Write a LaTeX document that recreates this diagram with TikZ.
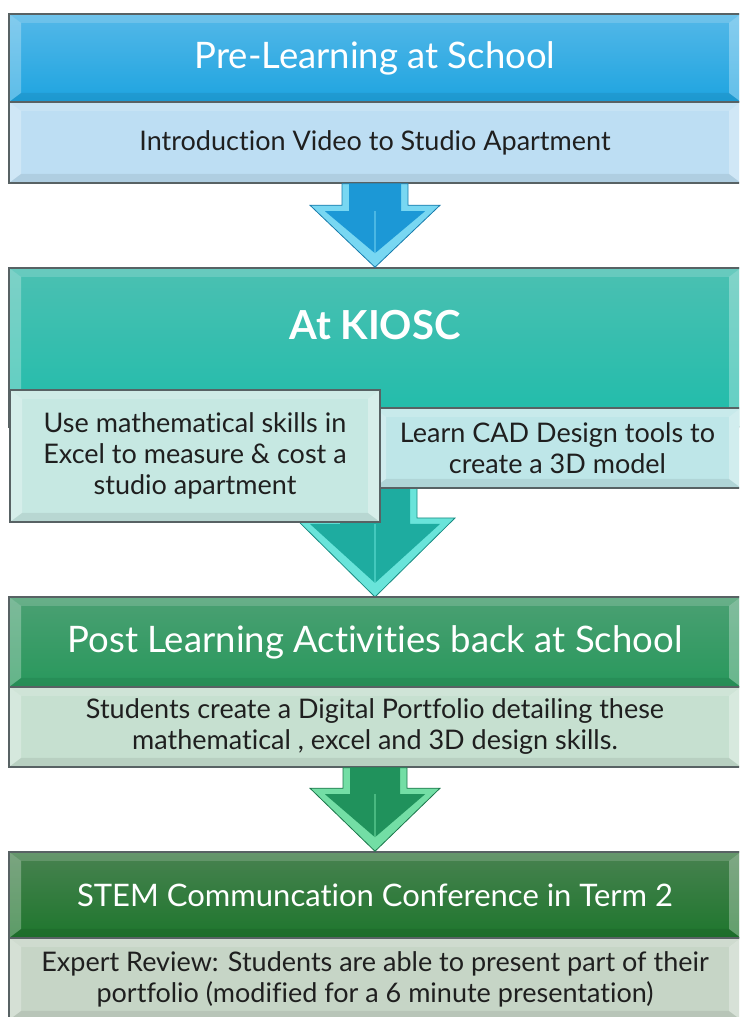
\documentclass[tikz,border=0pt]{standalone}
\usepackage{fontspec}
\setmainfont{Lato}[Ligatures={NoCommon,NoRequired,NoContextual}]
\usetikzlibrary{calc}

% stage colours
\definecolor{boxline}{RGB}{88,98,100}
\definecolor{bluetop}{RGB}{84,184,232}
\definecolor{bluebot}{RGB}{30,164,224}
\definecolor{bluesub}{RGB}{189,222,243}
\definecolor{bluelight}{RGB}{120,215,242}
\definecolor{bluemain}{RGB}{28,152,214}
\definecolor{tealtop}{RGB}{75,192,178}
\definecolor{tealbot}{RGB}{30,188,170}
\definecolor{tealsub}{RGB}{198,232,226}
\definecolor{tealsubb}{RGB}{190,230,232}
\definecolor{teallight}{RGB}{105,228,218}
\definecolor{tealmain}{RGB}{30,172,160}
\definecolor{greentop}{RGB}{75,160,115}
\definecolor{greenbot}{RGB}{40,152,92}
\definecolor{greensub}{RGB}{198,224,208}
\definecolor{greenlight}{RGB}{115,222,165}
\definecolor{greenmain}{RGB}{32,146,92}
\definecolor{darktop}{RGB}{72,130,80}
\definecolor{darkbot}{RGB}{30,118,45}
\definecolor{darksub}{RGB}{198,213,198}

\tikzset{
  bevel/.style={path picture={
    \path (path picture bounding box.south west) coordinate (bl)
          (path picture bounding box.north east) coordinate (tr);
    \fill[white,opacity=.28] (bl) -- (bl|-tr) -- ($(bl|-tr)+(12,-9)$) -- ($(bl)+(12,9)$) -- cycle;
    \fill[white,opacity=.16] (bl|-tr) -- (tr) -- ($(tr)+(-12,-9)$) -- ($(bl|-tr)+(12,-9)$) -- cycle;
    \fill[white,opacity=.30] (tr) -- (tr|-bl) -- ($(tr|-bl)+(-12,9)$) -- ($(tr)+(-12,-9)$) -- cycle;
    \fill[black,opacity=.07] (bl) -- (tr|-bl) -- ($(tr|-bl)+(-12,9)$) -- ($(bl)+(12,9)$) -- cycle;
  }},
  box/.style={draw=boxline,line width=1.5pt,minimum width=732pt,inner sep=0pt,align=center,bevel},
  hdr/.style={box,text=white,font=\fontsize{36.5}{42}\selectfont},
  sub/.style={box,text=black!88,font=\fontsize{27}{31}\selectfont},
  bigtitle/.style={text=white,font=\fontsize{40}{44}\selectfont\bfseries},
}

% block arrow: top anchor, tip anchor, shaft half-width, head half-width, head length, colour prefix
\newcommand\flowarrow[6]{%
  \fill[#6light,draw=#6main!80!black,line width=.8pt]
    ($(#1)+(-#3,0)$) -- ($(#2)+(-#3,#5)$) -- ($(#2)+(-#4,#5)$) -- (#2)
    -- ($(#2)+(#4,#5)$) -- ($(#2)+(#3,#5)$) -- ($(#1)+(#3,0)$) -- cycle;
  \fill[#6main]
    ($(#1)+(-#3+7,0)$) -- ($(#2)+(-#3+7,#5-6)$) -- ($(#2)+(-#4+15,#5-6)$) -- ($(#2)+(0,14)$)
    -- ($(#2)+(#4-15,#5-6)$) -- ($(#2)+(#3-7,#5-6)$) -- ($(#1)+(#3-7,0)$) -- cycle;
  \draw[#6light,opacity=.5,line width=1.2pt] ($(#2)+(0,#5-6)$) -- ($(#2)+(0,14)$);
}

\begin{document}
\begin{tikzpicture}[x=1pt,y=1pt]
\useasboundingbox (0,0) rectangle (739,1017);
\clip (0,0) rectangle (739,1017);

% pre-learning
\node[hdr,top color=bluetop,bottom color=bluebot,minimum height=88pt] (pre) at (375,959) {Pre-Learning at School};
\node[sub,fill=bluesub,minimum height=81pt] (presub) at (375,874.5) {Introduction Video to Studio Apartment};

% at KIOSC
\node[box,top color=tealtop,bottom color=tealbot,minimum height=159pt] (kiosc) at (375,669.5) {};
\node[bigtitle] (kiosctitle) at (375,692) {At KIOSC};
\flowarrow{presub.south}{kiosc.north}{33}{65}{62}{blue}
\flowarrow{kiosc.south}{375,420}{42}{80}{79}{teal}
\node[sub,fill=tealsubb,minimum width=367pt,minimum height=80pt] (cad) at (557.5,569) {Learn CAD Design tools to\\create a 3D model};
\node[sub,fill=tealsub,minimum width=370pt,minimum height=132pt] (excel) at (195,561) {Use mathematical skills in\\Excel to measure \& cost a\\studio apartment};

% post learning
\node[hdr,top color=greentop,bottom color=greenbot,minimum height=90pt] (post) at (375,375) {Post Learning Activities back at School};
\node[sub,fill=greensub,minimum height=80pt] (postsub) at (375,290) {Students create a Digital Portfolio detailing these\\mathematical , excel and 3D design skills.};

% conference
\node[hdr,top color=darktop,bottom color=darkbot,minimum height=86pt,font=\fontsize{31}{36}\selectfont] (stem) at (375,122) {STEM Communcation Conference in Term 2};
\flowarrow{postsub.south}{stem.north}{32}{65}{63}{green}
\node[sub,fill=darksub,minimum height=82pt] (stemsub) at (375,38) {Expert Review: Students are able to present part of their\\portfolio (modified for a 6 minute presentation)};
\end{tikzpicture}
\end{document}
